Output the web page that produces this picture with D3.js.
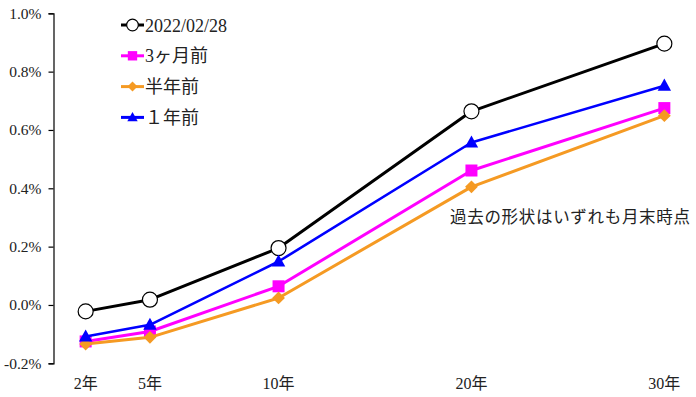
<!DOCTYPE html>
<html><head><meta charset="utf-8">
<script src="https://cdn.jsdelivr.net/npm/d3@7"></script>
<style>
html,body{margin:0;padding:0;background:#fff;}
svg text{fill:#222;font-family:"Liberation Serif","Noto Sans CJK JP",sans-serif;}
</style></head>
<body><svg id="c" width="696" height="397"></svg>
<script>
// category slots of the x axis (blank slots are unlabeled)
const slots = ["2年","5年","s3","10年","s5","s6","20年","s8","s9","30年"];
const categories = ["2年","5年","10年","20年","30年"];
const seriesNames = ["2022/02/28","3ヶ月前","半年前","１年前"];
const vNow   = [-0.022, 0.018, 0.195, 0.664, 0.896];
const v3m    = [-0.125, -0.091, 0.064, 0.461, 0.675];
const v6m    = [-0.134, -0.111, 0.024, 0.405, 0.649];
const v1y    = [-0.108, -0.068, 0.149, 0.557, 0.752];
const yTicks = [-0.2, 0.0, 0.2, 0.4, 0.6, 0.8, 1.0];
const note = "過去の形状はいずれも月末時点";

const series = [
  {name: seriesNames[0], values: vNow, color: "#000000", marker: "circle", w: 3},
  {name: seriesNames[1], values: v3m,  color: "#FF00FF", marker: "square", w: 3},
  {name: seriesNames[2], values: v6m,  color: "#F59A23", marker: "diamond", w: 3},
  {name: seriesNames[3], values: v1y,  color: "#0000FF", marker: "triangle", w: 2.6}
];

const svg = d3.select("#c");
const x = d3.scaleBand().domain(slots).range([53.5, 696.5]);
const xc = c => x(c) + x.bandwidth() / 2;
const y = d3.scaleLinear().domain([-0.2, 1.0]).range([363.3, 13.3]);
const fmt = d3.formatLocale({decimal: ".", thousands: ",", grouping: [3], currency: ["", ""], minus: "-"}).format(".1f");

const ya = svg.append("g").attr("transform", "translate(53.5,0)")
  .call(d3.axisLeft(y).tickValues(yTicks).tickSize(5).tickPadding(7)
        .tickFormat(d => fmt(d) + "%"));
ya.attr("font-family", null);
ya.select(".domain").attr("stroke", "#000").attr("stroke-width", 1.2);
ya.selectAll(".tick line").attr("stroke", "#000").attr("stroke-width", 1.2);
ya.selectAll(".tick text").attr("font-size", 15.5).attr("fill", "#222");

svg.append("g").selectAll("text").data(categories).join("text")
  .attr("x", d => xc(d)).attr("y", 389).attr("text-anchor", "middle")
  .attr("font-size", 16).text(d => d);

function marker(g, type, cx, cy, color, s) {
  if (type === "circle") {
    g.append("circle").attr("cx", cx).attr("cy", cy).attr("r", 7.5 * s)
      .attr("fill", "#fff").attr("stroke", "#000").attr("stroke-width", 1.2);
  } else if (type === "square") {
    const h = 6 * s;
    g.append("rect").attr("x", cx - h).attr("y", cy - h).attr("width", 2 * h).attr("height", 2 * h)
      .attr("fill", color);
  } else if (type === "diamond") {
    const h = 6.4 * s;
    g.append("path").attr("d", `M${cx},${cy - h}L${cx + h},${cy}L${cx},${cy + h}L${cx - h},${cy}Z`)
      .attr("fill", color);
  } else if (type === "triangle") {
    const h = 6.7 * s;
    g.append("path").attr("d", `M${cx},${cy - h * 1.05}L${cx + h},${cy + h * 0.75}L${cx - h},${cy + h * 0.75}Z`)
      .attr("fill", color);
  }
}

const line = d3.line().x(d => xc(d[0])).y(d => y(d[1]));
series.forEach(s => {
  const pts = categories.map((c, i) => [c, s.values[i]]);
  const g = svg.append("g");
  g.append("path").attr("d", line(pts)).attr("fill", "none")
    .attr("stroke", s.color).attr("stroke-width", s.w).attr("stroke-linejoin", "round");
  pts.forEach(p => marker(g, s.marker, xc(p[0]), y(p[1]), s.color, 1));
});

series.forEach((s, i) => {
  const ly = 25 + i * 30.8;
  const g = svg.append("g");
  g.append("line").attr("x1", 121).attr("x2", 144).attr("y1", ly).attr("y2", ly)
    .attr("stroke", s.color).attr("stroke-width", 3);
  marker(g, s.marker, 132.5, ly, s.color, 0.78);
  g.append("text").attr("x", 145).attr("y", ly + 6.5).attr("font-size", 18).text(s.name);
});

svg.append("text").attr("x", 450).attr("y", 223).attr("font-size", 16.5)
  .attr("textLength", 240).attr("lengthAdjust", "spacing").text(note);
</script></body></html>
